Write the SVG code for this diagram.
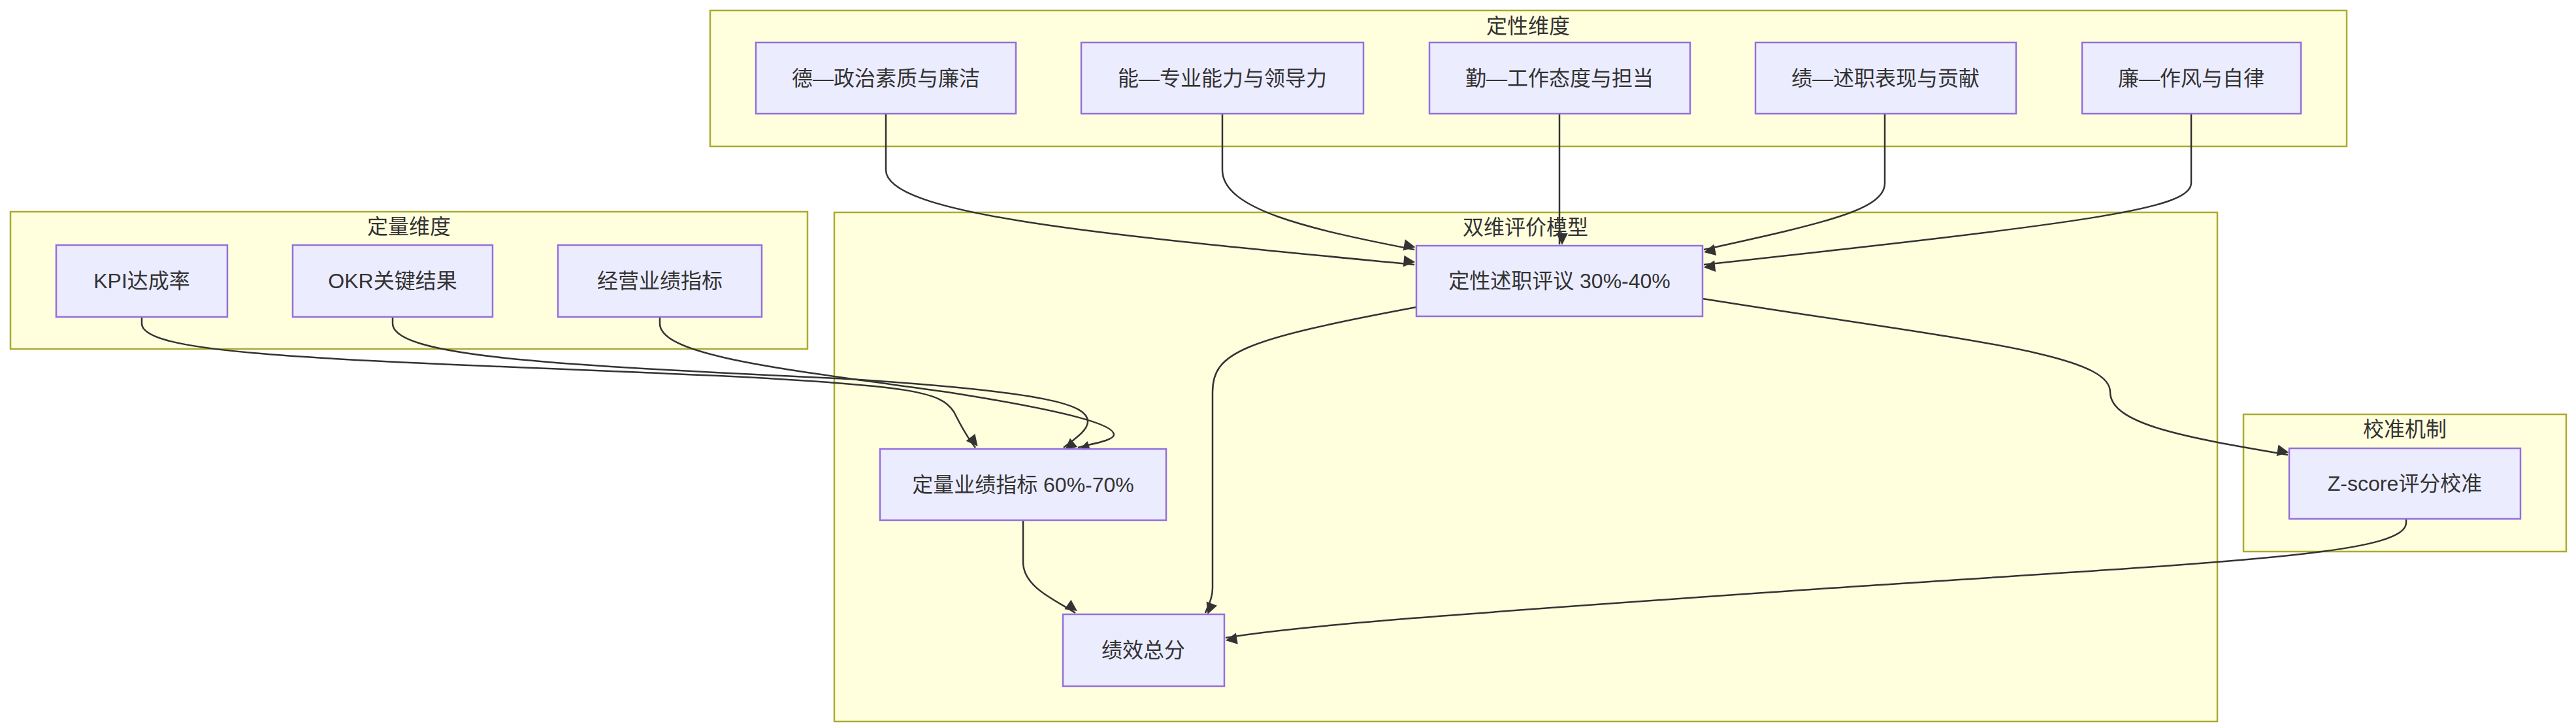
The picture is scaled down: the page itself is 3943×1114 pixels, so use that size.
<svg xmlns="http://www.w3.org/2000/svg" width="3943" height="1114" viewBox="0 0 3943 1114">
<style>
.cl{fill:#ffffde;stroke:#aaaa33;stroke-width:2.5}
.nd{fill:#ececff;stroke:#9370db;stroke-width:2.5}
text{font-family:"Liberation Sans","Noto Sans CJK SC",sans-serif;font-size:32px;fill:#333;text-anchor:middle;dominant-baseline:central}
.e{fill:none;stroke:#333;stroke-width:2.5;marker-end:url(#ah)}
</style>
<defs><marker id="ah" viewBox="0 0 10 10" refX="9" refY="5" markerWidth="8" markerHeight="8" orient="auto" markerUnits="userSpaceOnUse" style="overflow:visible"><path d="M0,0 L10,5 L0,10 z" fill="#333" transform="scale(2.2) translate(-5.5,-5) translate(5,5) scale(1) translate(-5,-5)"/></marker></defs>
<rect width="3943" height="1114" fill="#fff"/>
<g id="cluster-qual"><rect class="cl" x="1087" y="16" width="2505" height="208"/><text x="2339" y="40">定性维度</text></g>
<g id="cluster-quant"><rect class="cl" x="16" y="324" width="1220" height="210"/><text x="626" y="347">定量维度</text></g>
<g id="cluster-model"><rect class="cl" x="1277" y="325" width="2117" height="779"/><text x="2335" y="348">双维评价模型</text></g>
<g id="cluster-cal"><rect class="cl" x="3434" y="634" width="494" height="210"/><text x="3681" y="657">校准机制</text></g>
<g id="connectors">
<path class="e" d="M1356,174 L1356,260 C1356,330 1700,360 2165,405"/>
<path class="e" d="M1871,174 L1871,260 C1871,320 2000,350 2165,382"/>
<path class="e" d="M2387,174 L2387,374"/>
<path class="e" d="M2885,174 L2885,280 C2885,320 2800,340 2608,382"/>
<path class="e" d="M3354,174 L3354,280 C3354,320 3200,340 2608,405"/>
<path class="e" d="M217,485 L217,495 C217,545 520,550 1100,575 C1400,590 1440,600 1460,630 C1475,660 1485,675 1493,685"/>
<path class="e" d="M601,485 L601,495 C601,550 900,560 1300,580 C1610,600 1665,620 1665,645 C1665,660 1640,675 1628,685"/>
<path class="e" d="M1010,485 L1010,495 C1010,545 1200,565 1450,600 C1640,630 1705,650 1705,665 C1705,675 1665,680 1650,685"/>
<path class="e" d="M1566,796 L1566,860 C1566,900 1620,920 1646,938"/>
<path class="e" d="M2168,470 C1900,520 1856,540 1856,600 L1856,900 C1856,915 1850,925 1845,938"/>
<path class="e" d="M2606,457 C3000,520 3230,540 3230,600 C3230,650 3350,670 3502,696"/>
<path class="e" d="M3683,794 L3683,800 C3683,850 3400,860 2800,900 C2300,935 2000,955 1876,976"/>
</g>
<g id="n-de"><rect class="nd" x="1157" y="65" width="398" height="109"/><text x="1356" y="120">德—政治素质与廉洁</text></g>
<g id="n-neng"><rect class="nd" x="1655" y="65" width="432" height="109"/><text x="1871" y="120">能—专业能力与领导力</text></g>
<g id="n-qin"><rect class="nd" x="2188" y="65" width="399" height="109"/><text x="2387" y="120">勤—工作态度与担当</text></g>
<g id="n-ji"><rect class="nd" x="2687" y="65" width="399" height="109"/><text x="2886" y="120">绩—述职表现与贡献</text></g>
<g id="n-lian"><rect class="nd" x="3187" y="65" width="335" height="109"/><text x="3354" y="120">廉—作风与自律</text></g>
<g id="n-kpi"><rect class="nd" x="86" y="375" width="262" height="110"/><text x="217" y="430">KPI达成率</text></g>
<g id="n-okr"><rect class="nd" x="448" y="375" width="306" height="110"/><text x="601" y="430">OKR关键结果</text></g>
<g id="n-jy"><rect class="nd" x="854" y="375" width="312" height="110"/><text x="1010" y="430">经营业绩指标</text></g>
<g id="n-dxsz"><rect class="nd" x="2168" y="376" width="438" height="108"/><text x="2387" y="430">定性述职评议 30%-40%</text></g>
<g id="n-dlyj"><rect class="nd" x="1347" y="687" width="438" height="109"/><text x="1566" y="742">定量业绩指标 60%-70%</text></g>
<g id="n-total"><rect class="nd" x="1627" y="940" width="247" height="110"/><text x="1750" y="995">绩效总分</text></g>
<g id="n-z"><rect class="nd" x="3504" y="686" width="354" height="108"/><text x="3681" y="740">Z-score评分校准</text></g>
</svg>
